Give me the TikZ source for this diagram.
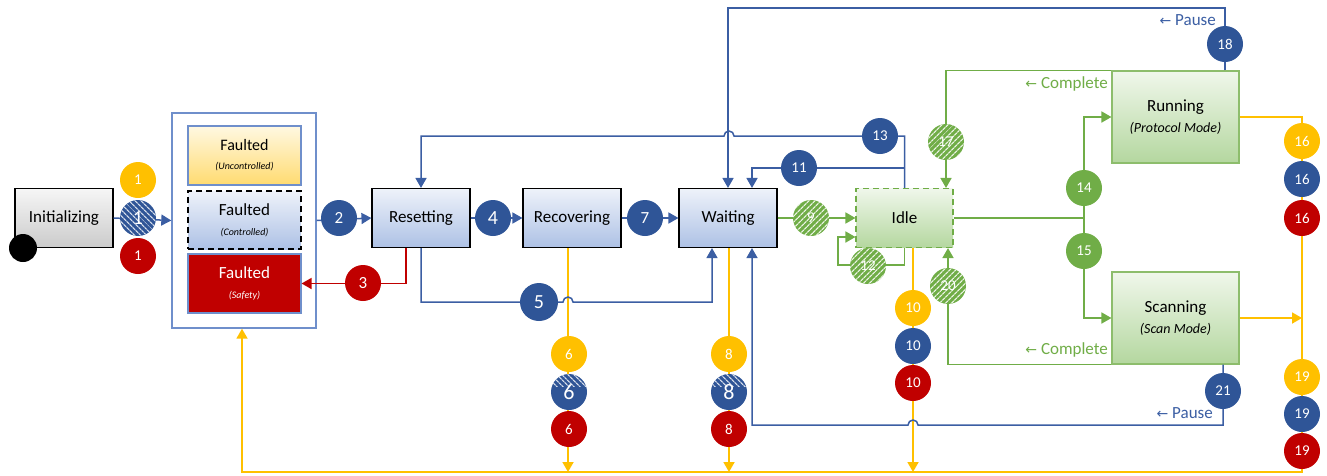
\documentclass[tikz,border=0pt]{standalone}
\usepackage{fontspec}
\setmainfont{Carlito}
\newfontfamily\symfont{DejaVu Sans}
\usetikzlibrary{arrows.meta}
\usetikzlibrary{patterns.meta}

\definecolor{dblue}{HTML}{2F5597}
\definecolor{lblue}{HTML}{3B5EA3}
\definecolor{frame}{HTML}{6F8FCB}
\definecolor{lgreen}{HTML}{70AD47}
\definecolor{amber}{HTML}{FFC000}
\definecolor{dred}{HTML}{C00000}
\definecolor{bluetop}{HTML}{EEF2FA}
\definecolor{bluebot}{HTML}{ADC1E5}
\definecolor{greentop}{HTML}{F0F7EB}
\definecolor{greenbot}{HTML}{B4D79F}
\definecolor{graytop}{HTML}{F6F6F6}
\definecolor{graybot}{HTML}{CBCBCB}
\definecolor{yeltop}{HTML}{FFF8E2}
\definecolor{yelbot}{HTML}{FFDB70}

\newcommand\subfont{\fontsize{10}{12}\selectfont\itshape}
\newcommand\modefont{\fontsize{14}{17}\selectfont\itshape}
\newcommand\larr{{\symfont\fontsize{14}{14}\selectfont ←}}

\tikzset{
  state/.style={rectangle,draw=black,line width=1.1pt,minimum width=98pt,minimum height=59pt,
    top color=bluetop,bottom color=bluebot,align=center,font=\fontsize{17}{21}\selectfont},
  gstate/.style={state,draw=lgreen,top color=greentop,bottom color=greenbot},
  badge/.style={circle,minimum size=36pt,inner sep=0pt,text=white,font=\fontsize{15}{15}\selectfont},
  big/.style={font=\fontsize{20}{20}\selectfont},
  mid/.style={font=\fontsize{17}{17}\selectfont},
  bb/.style={badge,fill=dblue},
  yb/.style={badge,fill=amber},
  rb/.style={badge,fill=dred},
  gb/.style={badge,fill=lgreen},
  gh/.style={badge,preaction={fill=lgreen},pattern={Lines[angle=45,distance=4pt,line width=1.3pt]},pattern color=white!85!lgreen},
  bh/.style={badge,preaction={fill=dblue},pattern={Lines[angle=-45,distance=4pt,line width=1.3pt]},pattern color=white!80!dblue},
  bhtop/.style={badge,fill=dblue,font=\fontsize{22}{22}\selectfont,
    path picture={\fill[pattern={Lines[angle=-45,distance=4pt,line width=1.3pt]},pattern color=white!80!dblue]
      (path picture bounding box.north west) rectangle ([yshift=-12pt]path picture bounding box.north east);}},
  arr/.style={-{Triangle[length=10pt,width=11pt]}},
  bl/.style={draw=lblue,line width=1.5pt},
  gl/.style={draw=lgreen,line width=1.7pt},
  yl/.style={draw=amber,line width=1.8pt},
  rl/.style={draw=dred,line width=1.5pt},
  tag/.style={anchor=east,inner sep=0pt,font=\fontsize{17}{20}\selectfont}
}

\begin{document}
\begin{tikzpicture}[x=1pt,y=-1pt]
\useasboundingbox (0,0) rectangle (1327,475);

% states
\node(A) at (64,218) [state,top color=graytop,bottom color=graybot]{Initializing};
\node(G) at (244,220.5) [rectangle,draw=frame,line width=1.4pt,minimum width=144pt,minimum height=215pt]{};
\node(FU) at (244.5,155.5) [state,draw=frame,top color=yeltop,bottom color=yelbot,minimum width=113pt,font=\fontsize{16}{20}\selectfont]{Faulted\\[-1pt]{\subfont (Uncontrolled)}};
\node(FC) at (244.5,220) [state,dashed,dash pattern=on 6pt off 4pt,minimum width=113pt,minimum height=58pt]{Faulted\\[-1pt]{\subfont (Controlled)}};
\node(FS) at (244.5,283.5) [state,draw=frame,top color=dred,bottom color=dred,text=white,minimum width=113pt]{Faulted\\[-1pt]{\subfont (Safety)}};
\node(B) at (421,218) [state]{Resetting};
\node(C) at (572,218) [state]{Recovering};
\node(D) at (728,218) [state]{Waiting};
\node(E) at (904.5,218) [gstate,dashed,dash pattern=on 6pt off 4pt,minimum width=97pt]{Idle};
\node(F) at (1175.5,117) [gstate,draw=lgreen!80,minimum width=127pt,minimum height=92pt]{Running\\{\modefont (Protocol Mode)}};
\node(H) at (1175.5,318) [gstate,draw=lgreen!80,minimum width=127pt,minimum height=92pt]{Scanning\\{\modefont (Scan Mode)}};
\node(S0) at (23,248) [circle,fill=black,minimum size=28pt]{};

\coordinate (S) at (1084,218);
\coordinate (y6) at (568,472);
\coordinate (y8) at (729,472);
\coordinate (y10) at (913,472);
\coordinate (bus) at (1302,472);
\coordinate (ret) at (242,472);

% yellow lines
\draw[yl,arr] (C.south -| y6) -- (y6);
\draw[yl,arr] (D.south -| y8) -- (y8);
\draw[yl,arr] (E.south -| y10) -- (y10);
\draw[yl,arr] (F.east) -- (F.east -| bus) -- (bus) -- (ret) -- (G.south -| ret);
\draw[yl,arr] (H.east) -- (H.east -| bus);

% blue lines
\draw[bl,arr] (A.east) -- (G.west);
\draw[bl,arr] (G.east) -- (B.west);
\draw[bl,arr] (B.east) -- (C.west);
\draw[bl,arr] (C.east) -- (D.west);
\draw[bl,arr] (B.south) |- (563,302) arc[start angle=180,end angle=0,radius=5pt] -| ([xshift=-16pt]D.south);
\draw[bl,arr] (E.north) |- (734,136) arc[start angle=0,end angle=180,radius=5pt] -| (B.north);
\draw[bl,arr] (E.north) |- (752,168) -- ([xshift=24pt]D.north);
\draw[bl,arr] ([xshift=49.5pt]F.north) |- (728,8) -- (D.north);
\draw[bl,arr] ([xshift=47.5pt]H.south) |- (918,425) arc[start angle=0,end angle=180,radius=5pt] -| ([xshift=24pt]D.south);
\draw[rl,arr] ([xshift=-15pt]B.south) |- (FS.east);

% green lines
\draw[gl,arr] (D.east) -- (E.west);
\draw[gl,arr] (E.south) |- (838,265) |- ([yshift=-19pt]E.west);
\draw[gl] (E.east) -- (S);
\draw[gl,arr] (S) |- (F.west);
\draw[gl,arr] (S) |- (H.west);
\draw[gl,arr] (F.north west) -| ([xshift=41.5pt]E.north);
\draw[gl,arr] (H.south west) -| ([xshift=43.5pt]E.south);

% labels on the return lines
\node(P1) at (1216,20) [tag,text=lblue]{\larr{} Pause};
\node(P2) at (1213,413) [tag,text=lblue]{\larr{} Pause};
\node(K1) at (1108,84) [tag,text=lgreen]{\larr{} Complete};
\node(K2) at (1108,350) [tag,text=lgreen]{\larr{} Complete};

% transition badges
\node(n1y) at (138,180) [yb]{1};
\node(n1b) at (138,218) [bh,big]{1};
\node(n1r) at (138,256) [rb]{1};
\node(n2) at (339,218) [bb,mid]{2};
\node(n3) at (363,283) [rb,mid]{3};
\node(n4) at (493,218) [bb,big]{4};
\node(n5) at (539,302) [bb,big,minimum size=38pt]{5};
\node(n6y) at (569,354) [yb]{6};
\node(n6b) at (569,392) [bhtop]{6};
\node(n6r) at (569,429) [rb]{6};
\node(n7) at (645,218) [bb,mid]{7};
\node(n8y) at (729,354) [yb]{8};
\node(n8b) at (729,392) [bhtop]{8};
\node(n8r) at (729,429) [rb]{8};
\node(n9) at (811,218) [gh]{9};
\node(n10y) at (913,308) [yb]{10};
\node(n10b) at (913,346) [bb]{10};
\node(n10r) at (913,383) [rb]{10};
\node(n11) at (799,168) [bb]{11};
\node(n12) at (868,266) [gh]{12};
\node(n13) at (880,136) [bb]{13};
\node(n14) at (1084,188) [gb]{14};
\node(n15) at (1084,251) [gb]{15};
\node(n16y) at (1302,141) [yb]{16};
\node(n16b) at (1302,179) [bb]{16};
\node(n16r) at (1302,218) [rb]{16};
\node(n17) at (946,142) [gh]{17};
\node(n18) at (1225,44) [bb]{18};
\node(n19y) at (1302,377) [yb]{19};
\node(n19b) at (1302,414) [bb]{19};
\node(n19r) at (1302,451) [rb]{19};
\node(n20) at (948,286) [gh]{20};
\node(n21) at (1223,391) [bb]{21};
\end{tikzpicture}
\end{document}
